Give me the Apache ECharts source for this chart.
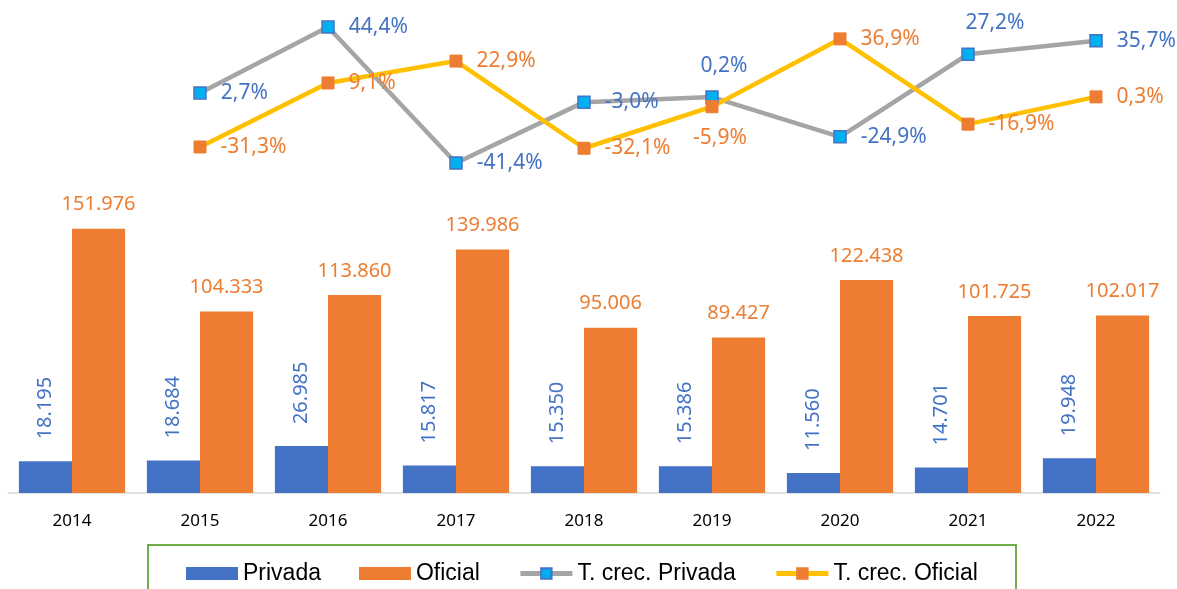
<!DOCTYPE html>
<html>
<head>
<meta charset="utf-8">
<script src="https://cdn.jsdelivr.net/npm/echarts@6/dist/echarts.min.js"></script>
<style>
html,body{margin:0;padding:0;background:#fff;}
#chart{width:1177px;height:589px;}
</style>
</head>
<body>
<div id="chart"></div>
<script>
var years = ['2014', '2015', '2016', '2017', '2018', '2019', '2020', '2021', '2022'];
var privada = [18195, 18684, 26985, 15817, 15350, 15386, 11560, 14701, 19948];
var oficial = [151976, 104333, 113860, 139986, 95006, 89427, 122438, 101725, 102017];
var tcPrivada = ['-', 2.7, 44.4, -41.4, -3.0, 0.2, -24.9, 27.2, 35.7];
var tcOficial = ['-', -31.3, 9.1, 22.9, -32.1, -5.9, 36.9, -16.9, 0.3];

var font = 'Noto Sans';

function miles(v) {
    return String(v).replace(/\B(?=(\d{3})+(?!\d))/g, '.');
}
function pct(v) {
    return v.toFixed(1).replace('.', ',') + '%';
}

// a few labels sit above/below the marker instead of to the right
var privPos = {5: {position: 'top', offset: [12, 0]}, 7: {position: 'top', offset: [27, 0]}};
var oficPos = {5: {position: 'bottom', offset: [8, 0]}};

function lineData(arr, pos) {
    var out = [];
    for (var i = 0; i < arr.length; i++) {
        if (pos[i]) {
            out.push({value: arr[i], label: pos[i]});
        } else {
            out.push(arr[i]);
        }
    }
    return out;
}

var chart = echarts.init(document.getElementById('chart'));
var option = {
    animation: false,
    textStyle: {fontFamily: font},
    legend: {
        left: 181,
        top: 557,
        itemWidth: 52,
        itemHeight: 13,
        itemGap: 38,
        selectedMode: false,
        lineStyle: {width: 5},
        textStyle: {fontSize: 23, color: '#000', fontFamily: 'Liberation Sans'},
        data: [
            {name: 'Privada', icon: 'rect'},
            {name: 'Oficial', icon: 'rect'},
            'T. crec. Privada',
            'T. crec. Oficial'
        ]
    },
    graphic: [{
        type: 'rect',
        shape: {x: 148, y: 545, width: 868, height: 60},
        style: {fill: 'none', stroke: '#70ad47', lineWidth: 2}
    }],
    grid: [
        {left: 8, right: 17, top: 10, bottom: 96},
        {left: 8, right: 17, top: 27, height: 136}
    ],
    xAxis: [
        {
            type: 'category',
            gridIndex: 0,
            data: years,
            axisTick: {show: false},
            axisLine: {lineStyle: {color: '#d9d9d9', width: 1.5}},
            axisLabel: {color: '#000', fontSize: 17, margin: 20}
        },
        {
            type: 'category',
            gridIndex: 1,
            data: years,
            show: false
        }
    ],
    yAxis: [
        {type: 'value', gridIndex: 0, min: 0, max: 277700, show: false, splitLine: {show: false}},
        {type: 'value', gridIndex: 1, min: -41.4, max: 44.4, show: false, splitLine: {show: false}}
    ],
    series: [
        {
            name: 'Privada',
            type: 'bar',
            data: privada,
            barGap: '0%',
            barCategoryGap: '17%',
            itemStyle: {color: '#4472c4'},
            label: {
                show: true,
                position: 'top',
                rotate: 90,
                align: 'left',
                verticalAlign: 'middle',
                distance: 22,
                color: '#4472c4',
                fontSize: 20,
                formatter: function (p) { return miles(p.value); }
            }
        },
        {
            name: 'Oficial',
            type: 'bar',
            data: oficial,
            itemStyle: {color: '#ed7d31'},
            label: {
                show: true,
                position: 'top',
                distance: 14,
                color: '#ed7d31',
                fontSize: 20,
                formatter: function (p) { return miles(p.value); }
            }
        },
        {
            name: 'T. crec. Privada',
            type: 'line',
            xAxisIndex: 1,
            yAxisIndex: 1,
            data: lineData(tcPrivada, privPos),
            symbol: 'rect',
            symbolSize: 12,
            lineStyle: {color: '#a5a5a5', width: 4.5},
            itemStyle: {color: '#00b0f0', borderColor: '#4472c4', borderWidth: 1.5},
            label: {
                show: true,
                position: 'right',
                distance: 14,
                color: '#4472c4',
                fontSize: 21,
                formatter: function (p) { return pct(p.value); }
            }
        },
        {
            name: 'T. crec. Oficial',
            type: 'line',
            xAxisIndex: 1,
            yAxisIndex: 1,
            data: lineData(tcOficial, oficPos),
            symbol: 'rect',
            symbolSize: 12,
            lineStyle: {color: '#ffc000', width: 4.5},
            itemStyle: {color: '#ed7d31', borderColor: '#ed7d31', borderWidth: 1},
            label: {
                show: true,
                position: 'right',
                distance: 14,
                color: '#ed7d31',
                fontSize: 21,
                formatter: function (p) { return pct(p.value); }
            }
        }
    ]
};
chart.setOption(option);
</script>
</body>
</html>
